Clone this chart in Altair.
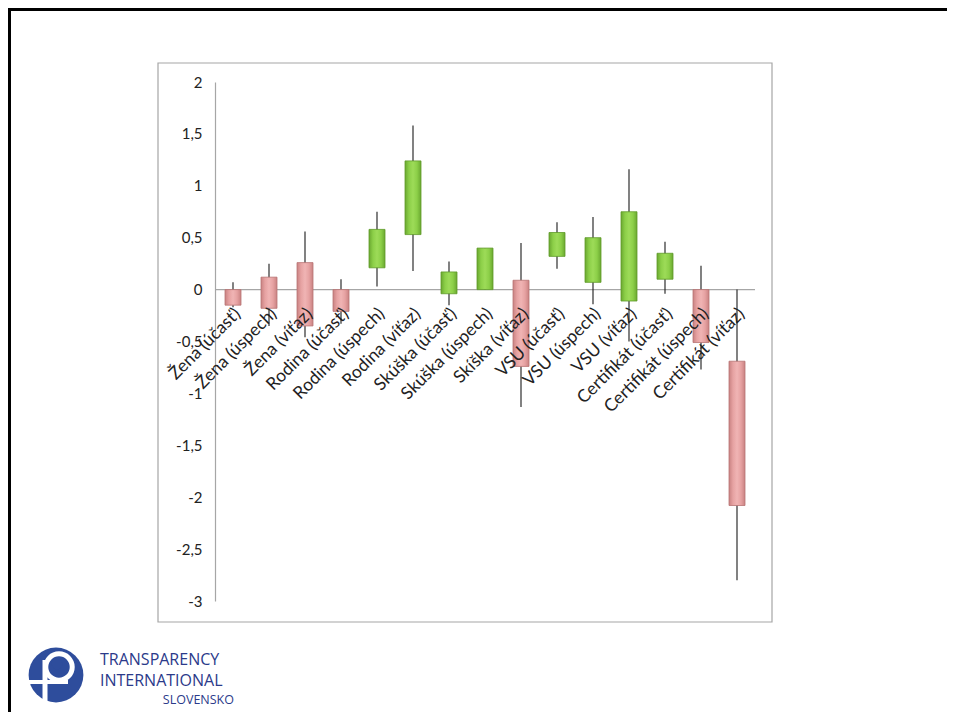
import altair as alt
import pandas as pd

categories = ["Žena (účasť)", "Žena (úspech)", "Žena (víťaz)", "Rodina (účasť)",
              "Rodina (úspech)", "Rodina (víťaz)", "Skúška (účasť)", "Skúška (úspech)",
              "Skíška (víťaz)", "VSU (účasť)", "VSU (úspech)", "VSU (víťaz)",
              "Certifikát (účasť)", "Certifikát (úspech)", "Certifikát (víťaz)"]
open_vals = [0.0, 0.12, 0.26, 0.0, 0.21, 0.53, -0.04, 0.0, 0.09, 0.32, 0.07, -0.11, 0.10, 0.0, -0.69]
close_vals = [-0.15, -0.18, -0.35, -0.21, 0.58, 1.24, 0.17, 0.40, -0.74, 0.55, 0.50, 0.75, 0.35, -0.51, -2.08]
high_vals = [0.07, 0.25, 0.56, 0.10, 0.75, 1.58, 0.27, 0.40, 0.45, 0.65, 0.70, 1.16, 0.46, 0.23, 0.0]
low_vals = [-0.17, -0.35, -0.46, -0.33, 0.03, 0.18, -0.15, 0.0, -1.13, 0.20, -0.14, -0.50, -0.04, -0.77, -2.80]
y_ticks = [-3, -2.5, -2, -1.5, -1, -0.5, 0, 0.5, 1, 1.5, 2]
logo_lines = ["TRANSPARENCY", "INTERNATIONAL"]
logo_sub = "SLOVENSKO"

df = pd.DataFrame({"cat": categories, "open": open_vals, "close": close_vals,
                   "high": high_vals, "low": low_vals})
df["dir"] = ["up" if c >= o else "down" for o, c in zip(open_vals, close_vals)]

one = pd.DataFrame({"a": [0]})

W, H = 540, 519
PL, PT = 207, 74
TOTW, TOTH = 939, 704

xenc = alt.X("cat:N", sort=categories, scale=alt.Scale(paddingInner=0, paddingOuter=0), axis=None)
yscale = alt.Scale(domain=[-3, 2], nice=False, zero=False)

base = alt.Chart(df)

# decorations: slide frame and chart-area box
frame_top = alt.Chart(one).mark_rule(color="black", strokeWidth=3).encode(
    x=alt.value(-PL), x2=alt.value(TOTW - PL), y=alt.value(-PT + 1.5))
frame_left = alt.Chart(one).mark_rule(color="black", strokeWidth=3).encode(
    x=alt.value(-PL + 1.5), y=alt.value(-PT), y2=alt.value(TOTH - PT))
chart_box = alt.Chart(one).mark_rect(fillOpacity=0, stroke="#a6a6a6", strokeWidth=1.2).encode(
    x=alt.value(-57), x2=alt.value(557), y=alt.value(-19), y2=alt.value(540))

zero_line = alt.Chart(one).mark_rule(color="#a6a6a6", strokeWidth=1.2).encode(
    y=alt.datum(0, scale=yscale), x=alt.value(0), x2=alt.value(W))

whiskers = base.mark_rule(color="#1a1a1a", strokeWidth=1.1).encode(
    x=xenc,
    y=alt.Y("low:Q", scale=yscale,
            axis=alt.Axis(title="", values=y_ticks, grid=False, ticks=False,
                          domainColor="#a6a6a6", domainWidth=1.2,
                          labelFont="Lato", labelFontSize=15, labelColor="#222222",
                          labelPadding=13,
                          labelExpr="replace(toString(datum.value), '.', ',')")),
    y2="high:Q")

red_grad = alt.Gradient(gradient="linear", x1=0, x2=1, y1=0, y2=0, stops=[
    alt.GradientStop(color="#c98282", offset=0),
    alt.GradientStop(color="#e6a2a2", offset=0.25),
    alt.GradientStop(color="#f0b4b4", offset=0.5),
    alt.GradientStop(color="#e6a2a2", offset=0.75),
    alt.GradientStop(color="#c98282", offset=1)])
green_grad = alt.Gradient(gradient="linear", x1=0, x2=1, y1=0, y2=0, stops=[
    alt.GradientStop(color="#6aa830", offset=0),
    alt.GradientStop(color="#8ccf48", offset=0.25),
    alt.GradientStop(color="#9ddb58", offset=0.5),
    alt.GradientStop(color="#8ccf48", offset=0.75),
    alt.GradientStop(color="#6aa830", offset=1)])

bars_down = base.transform_filter(alt.datum.dir == "down").mark_bar(
    size=16, color=red_grad, stroke="#b87474", strokeWidth=0.8).encode(
    x=xenc, y=alt.Y("open:Q", scale=yscale), y2="close:Q")
bars_up = base.transform_filter(alt.datum.dir == "up").mark_bar(
    size=16, color=green_grad, stroke="#5f9a2a", strokeWidth=0.8).encode(
    x=xenc, y=alt.Y("open:Q", scale=yscale), y2="close:Q")

labels = base.mark_text(angle=315, align="right", baseline="middle", font="Lato",
                        fontSize=17.5, color="#222222", dx=-12, dy=19).encode(
    x=xenc, y=alt.datum(0, scale=yscale), text="cat:N")

# logo
logo_circle = alt.Chart(one).mark_point(shape="circle", filled=True, opacity=1,
                                        size=3000, color="#2e4d9c").encode(
    x=alt.value(56 - 215), y=alt.value(675 - 82))
logo_ring = alt.Chart(one).mark_point(shape="circle", filled=False, opacity=1,
                                      size=700, color="white", strokeWidth=5).encode(
    x=alt.value(59 - 215), y=alt.value(667 - 82))
logo_head = alt.Chart(one).mark_point(shape="circle", filled=True, opacity=1,
                                      size=110, color="#2e4d9c").encode(
    x=alt.value(57 - 215), y=alt.value(664 - 82))
logo_bar = alt.Chart(one).mark_rule(color="white", strokeWidth=5).encode(
    x=alt.value(45 - 215), y=alt.value(660 - 82), y2=alt.value(706 - 82))
logo_bar2 = alt.Chart(one).mark_rule(color="white", strokeWidth=4).encode(
    x=alt.value(28 - 215), x2=alt.value(68 - 215), y=alt.value(682 - 82))

logo_t1 = alt.Chart(one).mark_text(text=logo_lines[0], align="left", baseline="middle",
                                   font="Open Sans", fontSize=16, color="#2b3a8a").encode(
    x=alt.value(100 - 215), y=alt.value(660 - 82))
logo_t2 = alt.Chart(one).mark_text(text=logo_lines[1], align="left", baseline="middle",
                                   font="Open Sans", fontSize=16, color="#2b3a8a").encode(
    x=alt.value(100 - 215), y=alt.value(681 - 82))
logo_t3 = alt.Chart(one).mark_text(text=logo_sub, align="right", baseline="middle",
                                   font="Open Sans", fontSize=12.5, color="#2b3a8a").encode(
    x=alt.value(234 - 215), y=alt.value(700 - 82))

chart = alt.layer(
    frame_top, frame_left, chart_box, zero_line, whiskers, bars_down, bars_up, labels,
    logo_circle, logo_ring, logo_head, logo_bar, logo_bar2, logo_t1, logo_t2, logo_t3
).properties(
    width=W, height=H,
    autosize=alt.AutoSizeParams(type="none"),
    padding={"left": PL, "top": PT, "right": TOTW - PL - W, "bottom": TOTH - PT - H},
    background="white"
).configure_view(stroke="transparent")

chart.save("out.html", embed_options={"renderer": "svg", "actions": False})
